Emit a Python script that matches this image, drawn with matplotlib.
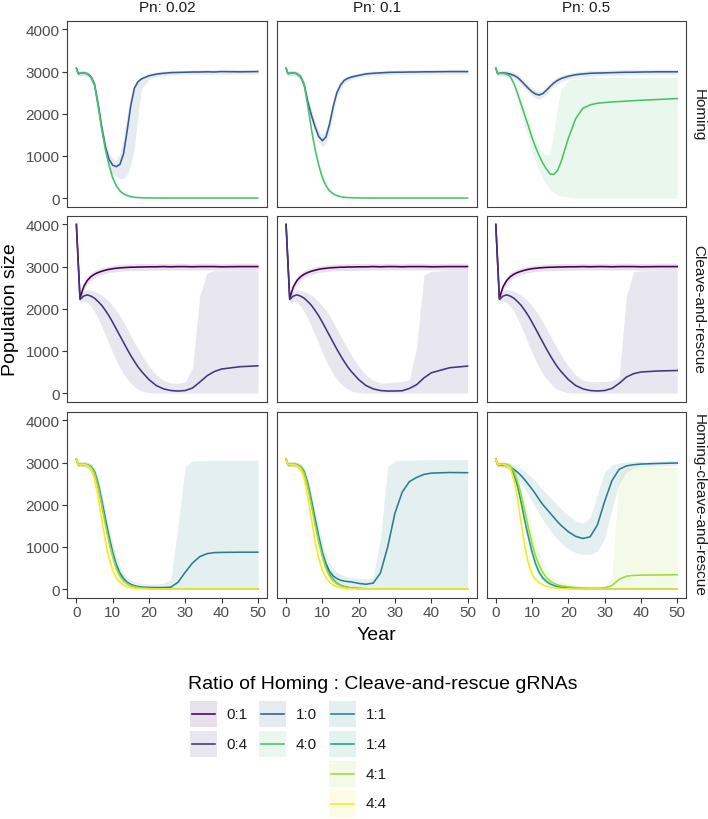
import matplotlib
matplotlib.use("Agg")
import matplotlib.pyplot as plt
from matplotlib.patches import Rectangle

plt.rcParams['font.family'] = ['Liberation Sans', 'DejaVu Sans']

# ---------------- data ----------------
YEARS = [0, 0.5, 1,
         2, 3, 4, 5, 6, 7, 8, 9, 10, 11, 12, 13, 14, 15, 16, 17, 18,
         20, 22, 24, 26, 28, 30, 32, 34, 36, 38, 40,
         45, 50]

PN_LABELS = ["Pn: 0.02", "Pn: 0.1", "Pn: 0.5"]
DRIVE_LABELS = ["Homing", "Cleave-and-rescue", "Homing-cleave-and-rescue"]
RATIOS = ["0:1", "0:4", "1:0", "1:1", "1:4", "4:0", "4:1", "4:4"]
RATIO_COLORS = ["#440154", "#46337E", "#365C8D", "#277F8E",
                "#1FA187", "#4AC16D", "#9FDA3A", "#FDE725"]
X_TICKS = [0, 10, 20, 30, 40, 50]
Y_TICKS = [0, 1000, 2000, 3000, 4000]
LEGEND_TITLE = "Ratio of Homing : Cleave-and-rescue gRNAs"
LEGEND_COLUMNS = [["0:1", "0:4"], ["1:0", "4:0"], ["1:1", "1:4", "4:1", "4:4"]]

# Homing, Pn 0.02
H10_002 = [3080, 2950, 2960,
           2970, 2950, 2880, 2700, 2220, 1680, 1220, 920, 780, 745, 800, 1050, 1600, 2200, 2610, 2760, 2830,
           2900, 2940, 2960, 2975, 2980, 2985, 2990, 2990, 2995, 2990, 3000,
           2995, 3000]
H10_002_LO = [3030, 2890, 2900,
              2900, 2880, 2800, 2600, 2100, 1520, 1020, 700, 560, 520, 460, 460, 560, 800, 1200, 2000, 2600,
              2820, 2880, 2900, 2920, 2925, 2930, 2930, 2935, 2935, 2935, 2940,
              2940, 2940]
H10_002_HI = [3130, 3010, 3020,
              3030, 3010, 2950, 2790, 2330, 1800, 1380, 1080, 950, 900, 1050, 1450, 2000, 2450, 2720, 2830, 2880,
              2950, 2990, 3010, 3025, 3030, 3035, 3040, 3045, 3050, 3045, 3055,
              3050, 3055]
H40_002 = [3080, 2950, 2960,
           2970, 2950, 2870, 2680, 2180, 1620, 1150, 780, 480, 290, 170, 100, 60, 35, 20, 12, 8,
           4, 2, 0, 0, 0, 0, 0, 0, 0, 0, 0,
           0, 0]
H40_002_LO = [3030, 2900, 2910,
              2920, 2900, 2810, 2600, 2080, 1500, 1030, 670, 390, 220, 120, 65, 35, 18, 10, 5, 3,
              1, 0, 0, 0, 0, 0, 0, 0, 0, 0, 0,
              0, 0]
H40_002_HI = [3130, 3000, 3010,
              3020, 3000, 2930, 2760, 2280, 1740, 1270, 890, 570, 360, 220, 140, 90, 55, 35, 22, 15,
              8, 5, 3, 2, 1, 0, 0, 0, 0, 0, 0,
              0, 0]

# Homing, Pn 0.1
H10_01 = [3080, 2950, 2960,
          2970, 2950, 2880, 2690, 2280, 1960, 1690, 1460, 1360, 1450, 1760, 2180, 2500, 2680, 2790, 2840, 2870,
          2910, 2945, 2960, 2970, 2980, 2985, 2985, 2990, 2990, 2995, 2995,
          3000, 3000]
H10_01_LO = [3030, 2890, 2900,
             2900, 2880, 2800, 2590, 2150, 1820, 1550, 1320, 1220, 1290, 1580, 2000, 2360, 2580, 2710, 2780, 2810,
             2860, 2890, 2910, 2920, 2925, 2930, 2930, 2935, 2935, 2940, 2940,
             2940, 2940]
H10_01_HI = [3130, 3010, 3020,
             3030, 3010, 2950, 2780, 2400, 2100, 1830, 1600, 1500, 1610, 1930, 2340, 2620, 2770, 2860, 2900, 2930,
             2960, 2995, 3010, 3020, 3030, 3035, 3040, 3045, 3045, 3050, 3050,
             3055, 3055]
H40_01 = H40_002
H40_01_LO = H40_002_LO
H40_01_HI = H40_002_HI

# Homing, Pn 0.5
H10_05 = [3080, 2950, 2960,
          2970, 2960, 2940, 2910, 2860, 2780, 2690, 2600, 2520, 2465, 2445, 2480, 2560, 2650, 2730, 2790, 2835,
          2890, 2925, 2945, 2960, 2965, 2970, 2975, 2980, 2985, 2985, 2990,
          2995, 2995]
H10_05_LO = [3030, 2890, 2900,
             2900, 2890, 2870, 2830, 2770, 2690, 2600, 2500, 2420, 2370, 2350, 2390, 2470, 2570, 2650, 2710, 2760,
             2820, 2860, 2880, 2890, 2900, 2905, 2910, 2915, 2920, 2920, 2925,
             2930, 2930]
H10_05_HI = [3130, 3010, 3020,
             3030, 3030, 3010, 2990, 2940, 2870, 2780, 2690, 2620, 2560, 2540, 2570, 2650, 2730, 2810, 2870, 2910,
             2960, 2990, 3010, 3025, 3030, 3035, 3040, 3045, 3050, 3050, 3055,
             3060, 3060]
H40_05 = [3080, 2950, 2960,
          2960, 2940, 2880, 2720, 2480, 2220, 1960, 1700, 1430, 1200, 1000, 820, 685, 570, 560, 650, 860,
          1420, 1880, 2130, 2210, 2250, 2265, 2280, 2290, 2300, 2310, 2320,
          2340, 2360]
H40_05_LO = [3030, 2900, 2910,
             2900, 2870, 2780, 2600, 2300, 1980, 1680, 1380, 1100, 850, 630, 450, 320, 210, 130, 80, 45,
             15, 0, 0, 0, 0, 0, 0, 0, 0, 0, 0,
             0, 0]
H40_05_HI = [3130, 3000, 3010,
             3010, 3000, 2960, 2830, 2600, 2360, 2120, 1870, 1620, 1400, 1200, 1080, 1030, 1040, 1600, 2150, 2580,
             2800, 2840, 2860, 2860, 2860, 2860, 2860, 2860, 2860, 2860, 2860,
             2860, 2860]

# Cleave-and-rescue (0:1 same for all Pn)
C01 = [4000, 3120, 2250,
       2520, 2670, 2760, 2820, 2860, 2890, 2915, 2935, 2950, 2960, 2970, 2975, 2980, 2985, 2985, 2990, 2990,
       2995, 2995, 3000, 2995, 3000, 3000, 2995, 3000, 3000, 3000, 2995,
       3000, 3000]
C01_LO = [4000, 3060, 2180,
          2430, 2580, 2670, 2740, 2780, 2810, 2840, 2860, 2870, 2880, 2890, 2900, 2900, 2905, 2905, 2910, 2910,
          2915, 2915, 2920, 2920, 2920, 2920, 2920, 2920, 2920, 2920, 2920,
          2920, 2920]
C01_HI = [4000, 3180, 2330,
          2610, 2760, 2850, 2900, 2940, 2970, 2990, 3010, 3030, 3040, 3050, 3055, 3060, 3065, 3065, 3070, 3070,
          3075, 3075, 3080, 3075, 3080, 3080, 3075, 3080, 3080, 3080, 3075,
          3080, 3080]
C04_002 = [4000, 3110, 2220,
           2300, 2330, 2300, 2250, 2170, 2080, 1960, 1830, 1680, 1520, 1360, 1200, 1040, 890, 750, 620, 510,
           320, 180, 100, 60, 48, 60, 120, 260, 410, 510, 570,
           625, 645]
C04_002_LO = [4000, 3050, 2150,
              2180, 2150, 2060, 1930, 1770, 1580, 1380, 1170, 960, 770, 600, 450, 330, 230, 150, 90, 50,
              10, 0, 0, 0, 0, 0, 0, 0, 0, 0, 0,
              0, 0]
C04_002_HI = [4000, 3170, 2300,
              2420, 2450, 2440, 2410, 2370, 2320, 2250, 2170, 2070, 1960, 1830, 1680, 1520, 1360, 1200, 1050, 900,
              640, 430, 300, 240, 230, 270, 600, 2300, 2850, 2900, 2900,
              2910, 2910]
C04_01 = [4000, 3110, 2220,
          2300, 2330, 2300, 2250, 2170, 2080, 1960, 1830, 1680, 1520, 1360, 1200, 1040, 890, 750, 620, 510,
          320, 180, 100, 60, 48, 50, 55, 110, 200, 360, 480,
          600, 640]
C04_01_LO = C04_002_LO
C04_01_HI = [4000, 3170, 2300,
             2420, 2450, 2440, 2410, 2370, 2320, 2250, 2170, 2070, 1960, 1830, 1680, 1520, 1360, 1200, 1050, 900,
             640, 430, 300, 240, 240, 260, 270, 320, 1100, 2800, 2890,
             2910, 2910]
C04_05 = [4000, 3110, 2220,
          2300, 2330, 2300, 2250, 2170, 2080, 1960, 1830, 1680, 1520, 1360, 1200, 1040, 890, 750, 620, 510,
          320, 180, 100, 60, 50, 60, 110, 230, 380, 460, 500,
          525, 535]
C04_05_LO = C04_002_LO
C04_05_HI = [4000, 3170, 2300,
             2420, 2450, 2440, 2410, 2370, 2320, 2250, 2170, 2070, 1960, 1830, 1680, 1520, 1360, 1200, 1050, 900,
             640, 430, 310, 270, 270, 275, 290, 380, 2300, 2880, 2900,
             2910, 2910]

# Homing-cleave-and-rescue, Pn 0.02 and 0.1 (shared fast-crashing ratios)
HC44_A = [3080, 2950, 2960,
          2960, 2930, 2850, 2620, 2180, 1650, 1130, 730, 450, 270, 160, 95, 55, 32, 18, 10, 6,
          2, 0, 0, 0, 0, 0, 0, 0, 0, 0, 0,
          0, 0]
HC44_A_LO = [3030, 2900, 2910,
             2910, 2870, 2770, 2500, 2020, 1470, 960, 600, 350, 200, 110, 60, 32, 17, 9, 5, 3,
             1, 0, 0, 0, 0, 0, 0, 0, 0, 0, 0,
             0, 0]
HC44_A_HI = [3130, 3000, 3010,
             3010, 2990, 2930, 2740, 2340, 1830, 1310, 880, 560, 350, 215, 135, 85, 52, 32, 20, 13,
             6, 3, 1, 0, 0, 0, 0, 0, 0, 0, 0,
             0, 0]
HC41_A = [3080, 2950, 2960,
          2960, 2940, 2890, 2750, 2420, 1980, 1530, 1110, 770, 490, 310, 200, 128, 85, 57, 37, 25,
          12, 6, 3, 2, 1, 0, 0, 0, 0, 0, 0,
          0, 0]
HC41_A_LO = [3030, 2900, 2910,
             2910, 2880, 2810, 2630, 2260, 1800, 1350, 950, 630, 380, 230, 140, 85, 52, 33, 20, 13,
             5, 2, 1, 0, 0, 0, 0, 0, 0, 0, 0,
             0, 0]
HC41_A_HI = [3130, 3000, 3010,
             3010, 3000, 2960, 2860, 2580, 2160, 1710, 1280, 910, 610, 400, 270, 180, 125, 88, 60, 42,
             22, 12, 7, 4, 2, 0, 0, 0, 0, 0, 0,
             0, 0]
HC14_A = [3080, 2950, 2960,
          2960, 2945, 2895, 2770, 2460, 2040, 1600, 1180, 820, 530, 340, 220, 140, 92, 62, 40, 28,
          14, 7, 4, 2, 1, 0, 0, 0, 0, 0, 0,
          0, 0]
HC14_A_LO = [3030, 2900, 2910,
             2910, 2885, 2815, 2650, 2300, 1860, 1420, 1020, 680, 420, 260, 160, 98, 62, 40, 25, 17,
             7, 3, 1, 0, 0, 0, 0, 0, 0, 0, 0,
             0, 0]
HC14_A_HI = [3130, 3000, 3010,
             3010, 3000, 2970, 2880, 2620, 2220, 1780, 1340, 960, 650, 430, 290, 190, 128, 88, 60, 42,
             24, 13, 8, 4, 2, 0, 0, 0, 0, 0, 0,
             0, 0]
HC11_002 = [3080, 2950, 2960,
            2960, 2945, 2900, 2780, 2490, 2090, 1660, 1240, 870, 580, 380, 250, 165, 112, 80, 60, 48,
            38, 35, 36, 45, 160, 400, 620, 770, 840, 865, 870,
            874, 874]
HC11_002_LO = [3030, 2900, 2910,
               2900, 2880, 2820, 2670, 2340, 1900, 1440, 1010, 660, 400, 240, 140, 85, 52, 33, 20, 12,
               5, 0, 0, 0, 0, 0, 0, 0, 0, 0, 0,
               0, 0]
HC11_002_HI = [3130, 3010, 3020,
               3020, 3010, 2970, 2870, 2620, 2270, 1880, 1480, 1110, 800, 560, 390, 280, 210, 170, 145, 130,
               120, 120, 140, 220, 1500, 2900, 3040, 3050, 3050, 3055, 3060,
               3060, 3060]
HC11_01 = [3080, 2950, 2960,
           2960, 2945, 2900, 2780, 2490, 2090, 1660, 1240, 870, 600, 420, 310, 250, 210, 190, 178, 170,
           135, 115, 140, 380, 1000, 1800, 2300, 2550, 2650, 2720, 2750,
           2765, 2760]
HC11_01_LO = [3030, 2900, 2910,
              2900, 2880, 2820, 2670, 2340, 1900, 1440, 1010, 660, 410, 260, 170, 115, 80, 55, 38, 25,
              10, 0, 0, 0, 0, 0, 0, 0, 0, 0, 0,
              0, 0]
HC11_01_HI = [3130, 3010, 3020,
              3020, 3010, 2970, 2870, 2620, 2270, 1880, 1480, 1110, 820, 620, 480, 400, 350, 310, 285, 270,
              245, 240, 270, 1200, 2900, 3040, 3050, 3060, 3060, 3065, 3070,
              3070, 3070]

# Homing-cleave-and-rescue, Pn 0.5
HC44_05 = [3080, 2950, 2960,
           2960, 2930, 2870, 2580, 2150, 1550, 1000, 610, 360, 225, 150, 100, 65, 40, 28, 18, 12,
           5, 0, 0, 0, 0, 0, 0, 0, 0, 0, 0,
           0, 0]
HC44_05_LO = [3030, 2900, 2910,
              2910, 2870, 2790, 2460, 1980, 1370, 840, 490, 270, 160, 100, 65, 40, 24, 16, 10, 6,
              2, 0, 0, 0, 0, 0, 0, 0, 0, 0, 0,
              0, 0]
HC44_05_HI = [3130, 3000, 3010,
              3010, 2990, 2950, 2700, 2310, 1730, 1160, 740, 460, 300, 205, 140, 95, 62, 45, 30, 20,
              10, 4, 2, 0, 0, 0, 0, 0, 0, 0, 0,
              0, 0]
HC14_05 = [3080, 2950, 2960,
           2960, 2945, 2890, 2720, 2440, 2050, 1620, 1230, 880, 590, 390, 260, 180, 120, 85, 60, 45,
           25, 12, 6, 3, 0, 0, 0, 0, 0, 0, 0,
           0, 0]
HC14_05_LO = [3030, 2900, 2910,
              2910, 2890, 2820, 2620, 2300, 1880, 1440, 1050, 720, 460, 290, 185, 125, 80, 55, 38, 28,
              14, 6, 2, 0, 0, 0, 0, 0, 0, 0, 0,
              0, 0]
HC14_05_HI = [3130, 3000, 3010,
              3010, 3000, 2960, 2820, 2580, 2220, 1800, 1410, 1040, 720, 490, 340, 240, 165, 120, 88, 66,
              40, 22, 12, 6, 2, 0, 0, 0, 0, 0, 0,
              0, 0]
HC41_05 = [3080, 2950, 2960,
           2960, 2950, 2910, 2790, 2560, 2240, 1860, 1450, 1080, 780, 560, 390, 270, 190, 135, 100, 80,
           55, 35, 25, 22, 22, 28, 80, 230, 305, 325, 330,
           335, 340]
HC41_05_LO = [3030, 2900, 2910,
              2910, 2900, 2840, 2680, 2400, 2030, 1600, 1170, 800, 520, 330, 210, 130, 80, 50, 30, 20,
              8, 2, 0, 0, 0, 0, 0, 0, 0, 0, 0,
              0, 0]
HC41_05_HI = [3130, 3000, 3010,
              3010, 3000, 2980, 2900, 2720, 2450, 2130, 1780, 1420, 1100, 830, 620, 470, 360, 280, 220, 180,
              130, 100, 80, 70, 70, 80, 300, 2700, 2880, 2890, 2890,
              2890, 2890]
HC11_05 = [3080, 2950, 2950,
           2945, 2930, 2890, 2840, 2770, 2690, 2590, 2480, 2370, 2250, 2120, 2000, 1900, 1800, 1700, 1600, 1510,
           1360, 1250, 1200, 1240, 1520, 2080, 2570, 2840, 2920, 2950, 2965,
           2980, 2990]
HC11_05_LO = [3030, 2900, 2890,
              2880, 2860, 2800, 2720, 2620, 2500, 2370, 2230, 2080, 1930, 1780, 1640, 1510, 1390, 1280, 1180, 1090,
              950, 860, 820, 820, 900, 1200, 1900, 2500, 2780, 2870, 2900,
              2920, 2930]
HC11_05_HI = [3130, 3010, 3010,
              3010, 3000, 2980, 2950, 2900, 2850, 2790, 2720, 2640, 2550, 2450, 2350, 2260, 2170, 2080, 1990, 1900,
              1750, 1620, 1560, 1700, 2250, 2780, 2940, 2990, 3010, 3020, 3030,
              3040, 3050]

PANELS = {
    (0, 0): [("1:0", H10_002, H10_002_LO, H10_002_HI), ("4:0", H40_002, H40_002_LO, H40_002_HI)],
    (0, 1): [("1:0", H10_01, H10_01_LO, H10_01_HI), ("4:0", H40_01, H40_01_LO, H40_01_HI)],
    (0, 2): [("1:0", H10_05, H10_05_LO, H10_05_HI), ("4:0", H40_05, H40_05_LO, H40_05_HI)],
    (1, 0): [("0:1", C01, C01_LO, C01_HI), ("0:4", C04_002, C04_002_LO, C04_002_HI)],
    (1, 1): [("0:1", C01, C01_LO, C01_HI), ("0:4", C04_01, C04_01_LO, C04_01_HI)],
    (1, 2): [("0:1", C01, C01_LO, C01_HI), ("0:4", C04_05, C04_05_LO, C04_05_HI)],
    (2, 0): [("1:1", HC11_002, HC11_002_LO, HC11_002_HI), ("1:4", HC14_A, HC14_A_LO, HC14_A_HI),
             ("4:1", HC41_A, HC41_A_LO, HC41_A_HI), ("4:4", HC44_A, HC44_A_LO, HC44_A_HI)],
    (2, 1): [("1:1", HC11_01, HC11_01_LO, HC11_01_HI), ("1:4", HC14_A, HC14_A_LO, HC14_A_HI),
             ("4:1", HC41_A, HC41_A_LO, HC41_A_HI), ("4:4", HC44_A, HC44_A_LO, HC44_A_HI)],
    (2, 2): [("1:1", HC11_05, HC11_05_LO, HC11_05_HI), ("1:4", HC14_05, HC14_05_LO, HC14_05_HI),
             ("4:1", HC41_05, HC41_05_LO, HC41_05_HI), ("4:4", HC44_05, HC44_05_LO, HC44_05_HI)],
}

COLOR = dict(zip(RATIOS, RATIO_COLORS))
RIBBON_ALPHA = 0.12

# ---------------- layout ----------------
W, H = 708, 820
fig = plt.figure(figsize=(W / 100, H / 100), dpi=100)

COL_LEFT = [67.3, 277.0, 486.7]
ROW_TOP = [22.0, 217.0, 413.0]
PW, PH = 199.6, 185.5

TXT = "#1A1A1A"
TICK_TXT = "#4D4D4D"
BORDER = "#404040"


def px_axes(left, top, width, height):
    return fig.add_axes([left / W, 1 - (top + height) / H, width / W, height / H])


for r in range(3):
    for c in range(3):
        ax = px_axes(COL_LEFT[c], ROW_TOP[r], PW, PH)
        series = PANELS[(r, c)]
        for ratio, mean, lo, hi in series:
            ax.fill_between(YEARS, lo, hi, color=COLOR[ratio], alpha=RIBBON_ALPHA, lw=0)
        for ratio, mean, lo, hi in series:
            ax.plot(YEARS, mean, color=COLOR[ratio], lw=1.15, solid_joinstyle='round')
        ax.set_xlim(-2.5, 52.5)
        ax.set_ylim(-200, 4200)
        ax.set_xticks(X_TICKS)
        ax.set_yticks(Y_TICKS)
        ax.set_xticklabels([str(v) for v in X_TICKS])
        ax.set_yticklabels([str(v) for v in Y_TICKS])
        for sp in ax.spines.values():
            sp.set_color(BORDER)
            sp.set_linewidth(0.8)
        ax.tick_params(direction='out', length=3.3, width=0.8, color='#333333',
                       labelsize=11, labelcolor=TICK_TXT, pad=2.2)
        if c != 0:
            ax.tick_params(axis='y', left=False, labelleft=False)
        if r != 2:
            ax.tick_params(axis='x', bottom=False, labelbottom=False)

# strip labels
for c in range(3):
    fig.text((COL_LEFT[c] + PW / 2) / W, 1 - 8.5 / H, PN_LABELS[c], ha='center', va='center',
             fontsize=11, color=TXT)
for r in range(3):
    fig.text(698.5 / W, 1 - (ROW_TOP[r] + PH / 2) / H, DRIVE_LABELS[r], ha='center', va='center',
             rotation=-90, fontsize=11, color=TXT)

# axis titles
fig.text(10.5 / W, 1 - 310 / H, "Population size", ha='center', va='center', rotation=90,
         fontsize=14, color='black')
fig.text((COL_LEFT[1] + PW / 2) / W, 1 - 635 / H, "Year", ha='center', va='center',
         fontsize=14, color='black')

# legend (drawn in figure pixel coordinates)
lax = fig.add_axes([0, 0, 1, 1])
lax.set_xlim(0, W)
lax.set_ylim(H, 0)
lax.axis('off')
lax.patch.set_alpha(0)
lax.text(188, 685, LEGEND_TITLE, ha='left', va='center', fontsize=14, color='black')
KEY_X = [190.0, 259.3, 329.0]
KEY_Y = [715.0, 745.0, 775.0, 804.5]
KEY = 26.7
for ci, col in enumerate(LEGEND_COLUMNS):
    for ri, ratio in enumerate(col):
        x0 = KEY_X[ci]
        yc = KEY_Y[ri]
        lax.add_patch(Rectangle((x0, yc - KEY / 2), KEY, KEY, facecolor=COLOR[ratio],
                                alpha=RIBBON_ALPHA, lw=0))
        lax.plot([x0 + 1.7, x0 + KEY - 1.7], [yc, yc], color=COLOR[ratio], lw=1.15)
        lax.text(x0 + KEY + 10, yc, ratio, ha='left', va='center', fontsize=11, color=TXT)

fig.savefig("out.png", dpi=100)
